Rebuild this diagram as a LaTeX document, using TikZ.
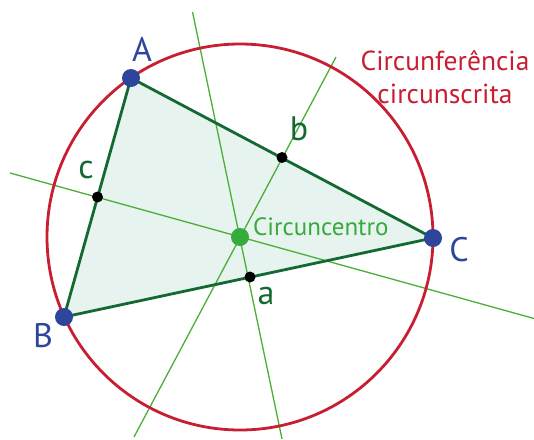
\documentclass[tikz,border=0pt]{standalone}
\usepackage{fontspec}
\setmainfont{PT Sans}
\usetikzlibrary{calc}
\definecolor{circred}{RGB}{200,30,50}
\definecolor{edgegreen}{RGB}{20,105,50}
\definecolor{fillgreen}{RGB}{230,243,238}
\definecolor{vblue}{RGB}{45,70,155}
\definecolor{ccgreen}{RGB}{55,170,60}
\definecolor{lgreen}{RGB}{75,175,55}
\tikzset{
  vdot/.style={circle,fill=vblue,inner sep=0pt,minimum size=18pt},
  mdot/.style={circle,fill=black,inner sep=0pt,minimum size=11pt},
  cdot/.style={circle,fill=ccgreen,inner sep=0pt,minimum size=18pt},
  vlabel/.style={text=vblue,font=\fontsize{34}{36}\selectfont,inner sep=0pt},
  mlabel/.style={text=edgegreen,font=\fontsize{34}{36}\selectfont,inner sep=0pt},
  bis/.style={lgreen,line width=1.3pt},
  edge/.style={edgegreen,line width=2.8pt},
}
\begin{document}
\begin{tikzpicture}[x=1pt,y=-1pt]
\useasboundingbox (0,0) rectangle (534,439);
\coordinate (A) at (131,78);
\coordinate (B) at (64,317);
\coordinate (C) at (433,238);
\coordinate (O) at (240,237);
\coordinate (Ma) at (250,277);
\coordinate (Mb) at (282,157.5);
\coordinate (Mc) at (97.5,197);
% triangle fill
\fill[fillgreen] (A) -- (B) -- (C) -- cycle;
% bisector ends
\coordinate (c1) at (10,173);
\coordinate (c2) at (534,318.5);
\coordinate (b1) at (336,57);
\coordinate (b2) at (134,437);
\coordinate (a1) at (192.5,12);
\coordinate (a2) at (282,439);
\draw[bis] (c1) -- (c2);
\draw[bis] (b1) -- (b2);
\draw[bis] (a1) -- (a2);
% circle
\draw[circred,line width=2.8pt] (O) circle[radius=193];
% edges
\draw[edge,line join=round] (A) -- (B) -- (C) -- cycle;
% dots
\node[mdot] (ma) at (Ma) {};
\node[mdot] (mb) at (Mb) {};
\node[mdot] (mc) at (Mc) {};
\node[cdot] (o) at (O) {};
\node[vdot] (a) at (A) {};
\node[vdot] (b) at (B) {};
\node[vdot] (c) at (C) {};
% labels
\node[vlabel] (lA) at (142,49) {A};
\node[vlabel] (lB) at (43,336) {B};
\node[vlabel] (lC) at (459,250) {C};
\node[mlabel] (la) at (266,296) {a};
\node[mlabel] (lb) at (299,129) {b};
\node[mlabel] (lc) at (86,170) {c};
\node[text=ccgreen,font=\fontsize{25}{27}\selectfont,inner sep=0pt,anchor=west] (lo) at (253,227) {Circuncentro};
\node[text=circred,font=\fontsize{27.5}{33}\selectfont,inner sep=0pt,align=center] (lcirc) at (445,77) {Circunferência\\circunscrita};
\end{tikzpicture}
\end{document}
